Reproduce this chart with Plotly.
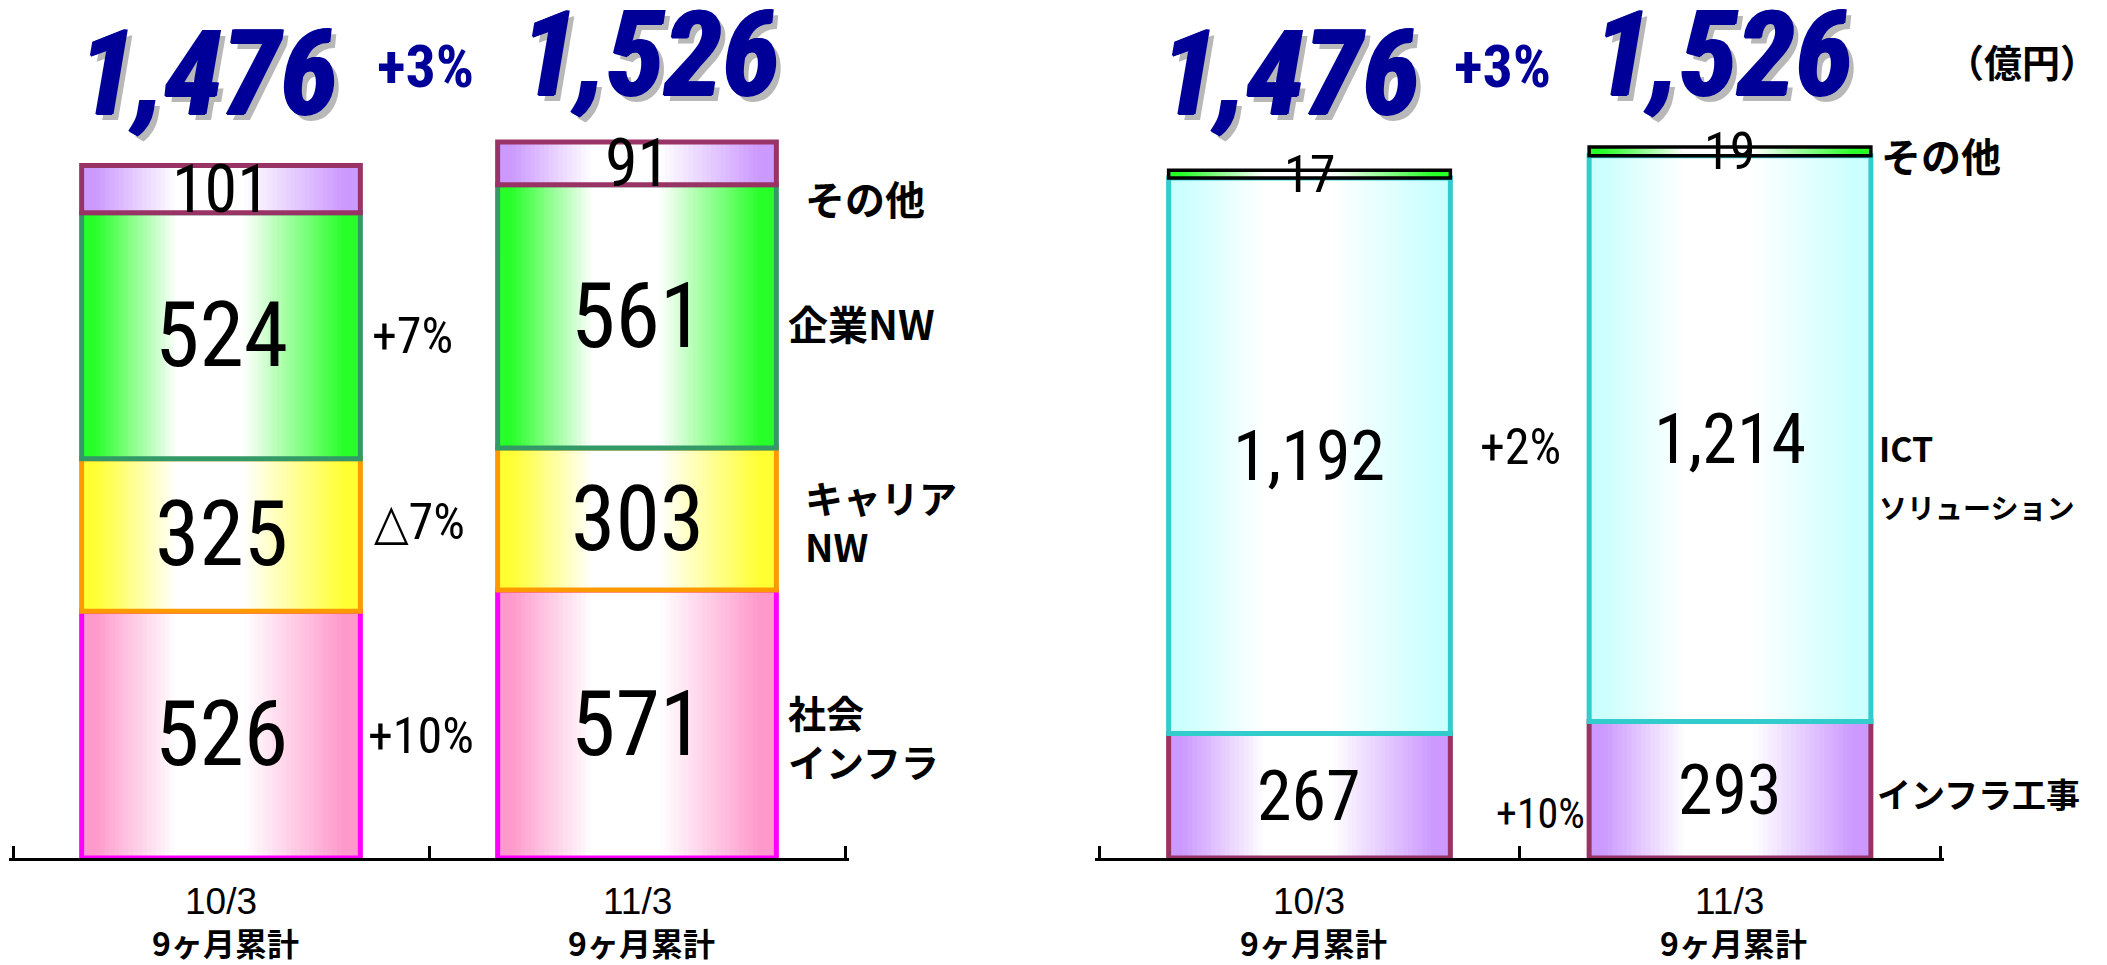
import plotly.graph_objects as go

W, H = 2107, 965

# ---------------- data ----------------
periods = ["10/3", "11/3"]
period_note = "9ヶ月累計"
totals = [1476, 1526]
total_growth = "+3%"
unit_text = "（億円）"

# left chart (bottom -> top)
seg_social_infra = [526, 571]
seg_carrier_nw = [325, 303]
seg_enterprise_nw = [524, 561]
seg_left_other = [101, 91]
growth_left = ["+10%", "△7%", "+7%"]
labels_left = [["社会", "インフラ"], ["キャリア", "NW"], ["企業NW"], ["その他"]]

# right chart (bottom -> top)
seg_infra_works = [267, 293]
seg_ict = [1192, 1214]
seg_right_other = [17, 19]
growth_right = ["+10%", "+2%"]
labels_right = [["インフラ工事"], ["ICT", "ソリューション"], ["その他"]]

# ---------------- styles ----------------
NAVY = "#000099"
NARROW = "Liberation Sans Narrow, Roboto Condensed, DejaVu Sans Condensed, Arial Narrow, Liberation Sans, sans-serif"
SANS = "Liberation Sans, Arial, sans-serif"
JP = "Noto Sans CJK JP, sans-serif"
BW = 0.67
K = 60
OX, OY = 8, 8          # page offset of the plot div (body margin)

left_styles = [  # fill edge colour, border colour, border width
    ((255, 153, 204), "#FF00FF", 5),
    ((255, 255, 51), "#FF9900", 5),
    ((40, 255, 40), "#339966", 5),
    ((204, 153, 255), "#993366", 5),
]
right_styles = [
    ((204, 153, 255), "#993366", 5),
    ((204, 255, 255), "#33CCCC", 5),
    ((40, 255, 40), "#000000", 3.5),
]


def white_amount(p):
    if p < 0.05:
        return 0.0
    if p < 0.34:
        return (p - 0.05) / 0.29
    if p <= 0.58:
        return 1.0
    if p < 0.94:
        return (0.94 - p) / 0.36
    return 0.0


def mix(c, t):
    r, g, b = [int(round(v + (255 - v) * t)) for v in c]
    return f"rgb({r},{g},{b})"


def px(x):
    return (x - OX) / W


def py(y):
    return 1 - (y - OY) / H


fig = go.Figure()


def add_stack(segments, styles, xa, ya):
    bases = [0] * len(periods)
    centers = []
    for vals, (edge, border, lw) in zip(segments, styles):
        step = BW / K
        for i in range(K):
            p = (i + 0.5) / K
            col = mix(edge, white_amount(p))
            wdt = step * 1.35 if i < K - 1 else step
            fig.add_trace(go.Bar(
                x=periods, y=vals, base=bases, width=wdt, offset=-BW / 2 + i * step,
                marker=dict(color=col, line=dict(width=0)),
                xaxis=xa, yaxis=ya, hoverinfo="skip", showlegend=False))
        fig.add_trace(go.Bar(
            x=periods, y=vals, base=bases, width=BW, offset=-BW / 2,
            marker=dict(color="rgba(0,0,0,0)", line=dict(color=border, width=lw)),
            xaxis=xa, yaxis=ya, hoverinfo="skip", showlegend=False))
        centers.append([b + v / 2 for b, v in zip(bases, vals)])
        bases = [b + v for b, v in zip(bases, vals)]
    return centers


left_segments = [seg_social_infra, seg_carrier_nw, seg_enterprise_nw, seg_left_other]
right_segments = [seg_infra_works, seg_ict, seg_right_other]
lc = add_stack(left_segments, left_styles, "x", "y")
rc = add_stack(right_segments, right_styles, "x2", "y2")

ann = []


def note(text, x, y, font, xref="paper", yref="paper", xanchor="center", yanchor="middle", **kw):
    ann.append(dict(text=text, x=x, y=y, xref=xref, yref=yref, showarrow=False,
                    xanchor=xanchor, yanchor=yanchor, font=font, **kw))


TITLE_FONT = dict(family=NARROW, size=118, color=NAVY, weight="bold", style="italic",
                  shadow="1.5px 0px 0px #000099, -1px 0px 0px #000099, 0px 1px 0px #000099, "
                         "6px 6px 0px #b8b8b8")

# totals
for text, cx, cy in [(f"{totals[0]:,}", 208, 74), (f"{totals[1]:,}", 650, 55),
                     (f"{totals[0]:,}", 1290, 74), (f"{totals[1]:,}", 1723, 55)]:
    note(text, px(cx), py(cy), TITLE_FONT)
for cx in (425, 1502):
    note(total_growth, px(cx), py(67), dict(family=NARROW, size=60, color=NAVY, weight="bold"))
note(unit_text, px(2022), py(60), dict(family=JP, size=38, color="black", weight="bold"))

# value labels - left
for si, vals in enumerate(left_segments):
    size = 66 if si == 3 else 90
    for j, v in enumerate(vals):
        note(f"{v:,}", periods[j], lc[si][j], dict(family=NARROW, size=size, color="black"),
             xref="x", yref="y")

# value labels - right
for si, vals in enumerate(right_segments):
    size = {0: 70, 1: 70, 2: 52}[si]
    for j, v in enumerate(vals):
        note(f"{v:,}", periods[j], rc[si][j], dict(family=NARROW, size=size, color="black"),
             xref="x2", yref="y2")

# growth labels
growth_left_pos = [(366, 736, 50), (372, 522, 50), (370, 336, 50)]
for t, (x0, y0, sz) in zip(growth_left, growth_left_pos):
    note(t, px(x0), py(y0), dict(family=NARROW, size=sz, color="black"), xanchor="left")
growth_right_pos = [(1494, 813, 42), (1478, 447, 50)]
for t, (x0, y0, sz) in zip(growth_right, growth_right_pos):
    note(t, px(x0), py(y0), dict(family=NARROW, size=sz, color="black"), xanchor="left")

# segment labels (left: multi-line blocks)
left_label_pos = [(786, 736, 38), (803, 521, 38), (786, 323, 40), (803, 198, 40)]
for lines, (x0, y0, sz) in zip(labels_left, left_label_pos):
    note("<br>".join(lines), px(x0), py(y0),
         dict(family=JP, size=sz, color="black", weight="bold"), xanchor="left", align="left")
right_label_pos = [(1875, [793], [34]), (1877, [447, 507], [34, 28]), (1879, [155], [40])]
for lines, (x0, ys, szs) in zip(labels_right, right_label_pos):
    for line, y0, sz in zip(lines, ys, szs):
        note(line, px(x0), py(y0), dict(family=JP, size=sz, color="black", weight="bold"),
             xanchor="left")

# category labels
for xr in ("x", "x2"):
    for p in periods:
        note(p, p, py(901), dict(family=SANS, size=37, color="black"), xref=xr)
        note(period_note, p, py(942), dict(family=JP, size=32, color="black", weight="bold"),
             xref=xr, xshift=4)

RNG = [-0.51, 1.51]
axis_common = dict(type="category", range=RNG, showline=True, linecolor="black",
                   linewidth=2.5, ticks="inside", tickson="boundaries", ticklen=12, tickwidth=2.5,
                   tickcolor="black", showticklabels=False, showgrid=False, zeroline=False,
                   fixedrange=True)


def xdomain(center0, unit):
    return [px(center0 + (RNG[0]) * unit), px(center0 + RNG[1] * unit)]


ydom = [py(858), 1]
top_left = (858 - OY) / 0.4692
top_right = (858 - OY) / 0.466

fig.update_layout(
    width=W, height=H, margin=dict(l=0, r=0, t=0, b=0),
    paper_bgcolor="white", plot_bgcolor="rgba(0,0,0,0)",
    barmode="overlay", showlegend=False,
    xaxis=dict(domain=xdomain(221, 416), anchor="y", **axis_common),
    yaxis=dict(domain=ydom, range=[0, top_left], visible=False, anchor="x", fixedrange=True),
    xaxis2=dict(domain=xdomain(1309.5, 420.5), anchor="y2", **axis_common),
    yaxis2=dict(domain=ydom, range=[0, top_right], visible=False, anchor="x2", fixedrange=True),
    annotations=ann,
)

fig.write_html("out.html", config={"displayModeBar": False})
